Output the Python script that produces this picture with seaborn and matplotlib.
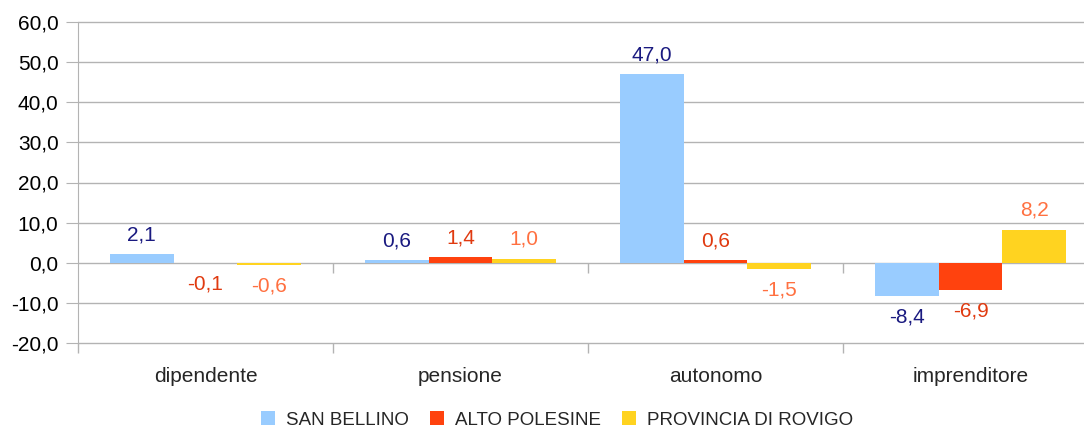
import pandas as pd
import matplotlib.pyplot as plt
import seaborn as sns
from matplotlib.ticker import FixedLocator, FuncFormatter

# Data
categories = ['dipendente', 'pensione', 'autonomo', 'imprenditore']
series = ['SAN BELLINO', 'ALTO POLESINE', 'PROVINCIA DI ROVIGO']
san_bellino = [2.1, 0.6, 47.0, -8.4]
alto_polesine = [-0.1, 1.4, 0.6, -6.9]
provincia_rovigo = [-0.6, 1.0, -1.5, 8.2]

colors = ['#99ccff', '#ff420e', '#ffd320']
label_colors = ['#1a1a80', '#e03a10', '#ff7040']

df = pd.DataFrame({
    'categoria': categories * 3,
    'serie': [s for s in series for _ in categories],
    'valore': san_bellino + alto_polesine + provincia_rovigo,
})

sns.set_style('white')
plt.rcParams['font.family'] = ['Liberation Sans', 'DejaVu Sans']

fig = plt.figure(figsize=(10.84, 4.32), dpi=100)
ax = fig.add_axes([78 / 1084, 89 / 432, 1020 / 1084, 321 / 432])

sns.barplot(data=df, x='categoria', y='valore', hue='serie', order=categories,
            hue_order=series, palette=colors, width=0.75, gap=0,
            saturation=1, linewidth=0, ax=ax)

ax.set_xlim(-0.5, 3.5)
ax.set_ylim(-20, 60)
ax.set_yticks(range(-20, 61, 10))
ax.yaxis.set_major_formatter(FuncFormatter(lambda v, p: f'{v:.1f}'.replace('.', ',')))
ax.grid(axis='y', color='#b3b3b3', linewidth=1)
for gl in ax.get_ygridlines():
    gl.set_clip_on(False)
ax.set_axisbelow(True)
ax.set_xlabel('')
ax.set_ylabel('')

for side in ['top', 'right', 'bottom']:
    ax.spines[side].set_visible(False)
ax.spines['left'].set_color('#b3b3b3')

ax.tick_params(axis='y', length=9, color='#b3b3b3', labelsize=15, pad=5,
               labelcolor='#000000', left=True)
ax.tick_params(axis='x', which='major', length=0, labelsize=15, pad=17)
ax.xaxis.set_minor_locator(FixedLocator([-0.5, 0.5, 1.5, 2.5, 3.5]))
ax.tick_params(axis='x', which='minor', length=7.5, color='#b3b3b3', width=1, bottom=True)
ax.vlines([0.5, 1.5, 2.5, 3.5], -2.5, 0, color='#b3b3b3', linewidth=1)

# Data labels
for container, lc in zip(ax.containers, label_colors):
    for bar in container:
        v = bar.get_height()
        x = bar.get_x() + bar.get_width() / 2
        off = 14 if v >= 0 else -15
        ax.annotate(f'{v:.1f}'.replace('.', ','), (x, v), xytext=(0, off),
                    textcoords='offset points', ha='center', va='center',
                    color=lc, fontsize=15)

handles, labels = ax.get_legend_handles_labels()
ax.legend_.remove()
fig.legend(handles, labels, loc='center', bbox_to_anchor=(557 / 1084, 1 - 420 / 432),
           ncol=3, frameon=False, fontsize=13.5, handlelength=0.75, handleheight=0.75,
           handletextpad=0.6, columnspacing=1.1, borderaxespad=0)

plt.savefig('out.png', dpi=100)
plt.close()
